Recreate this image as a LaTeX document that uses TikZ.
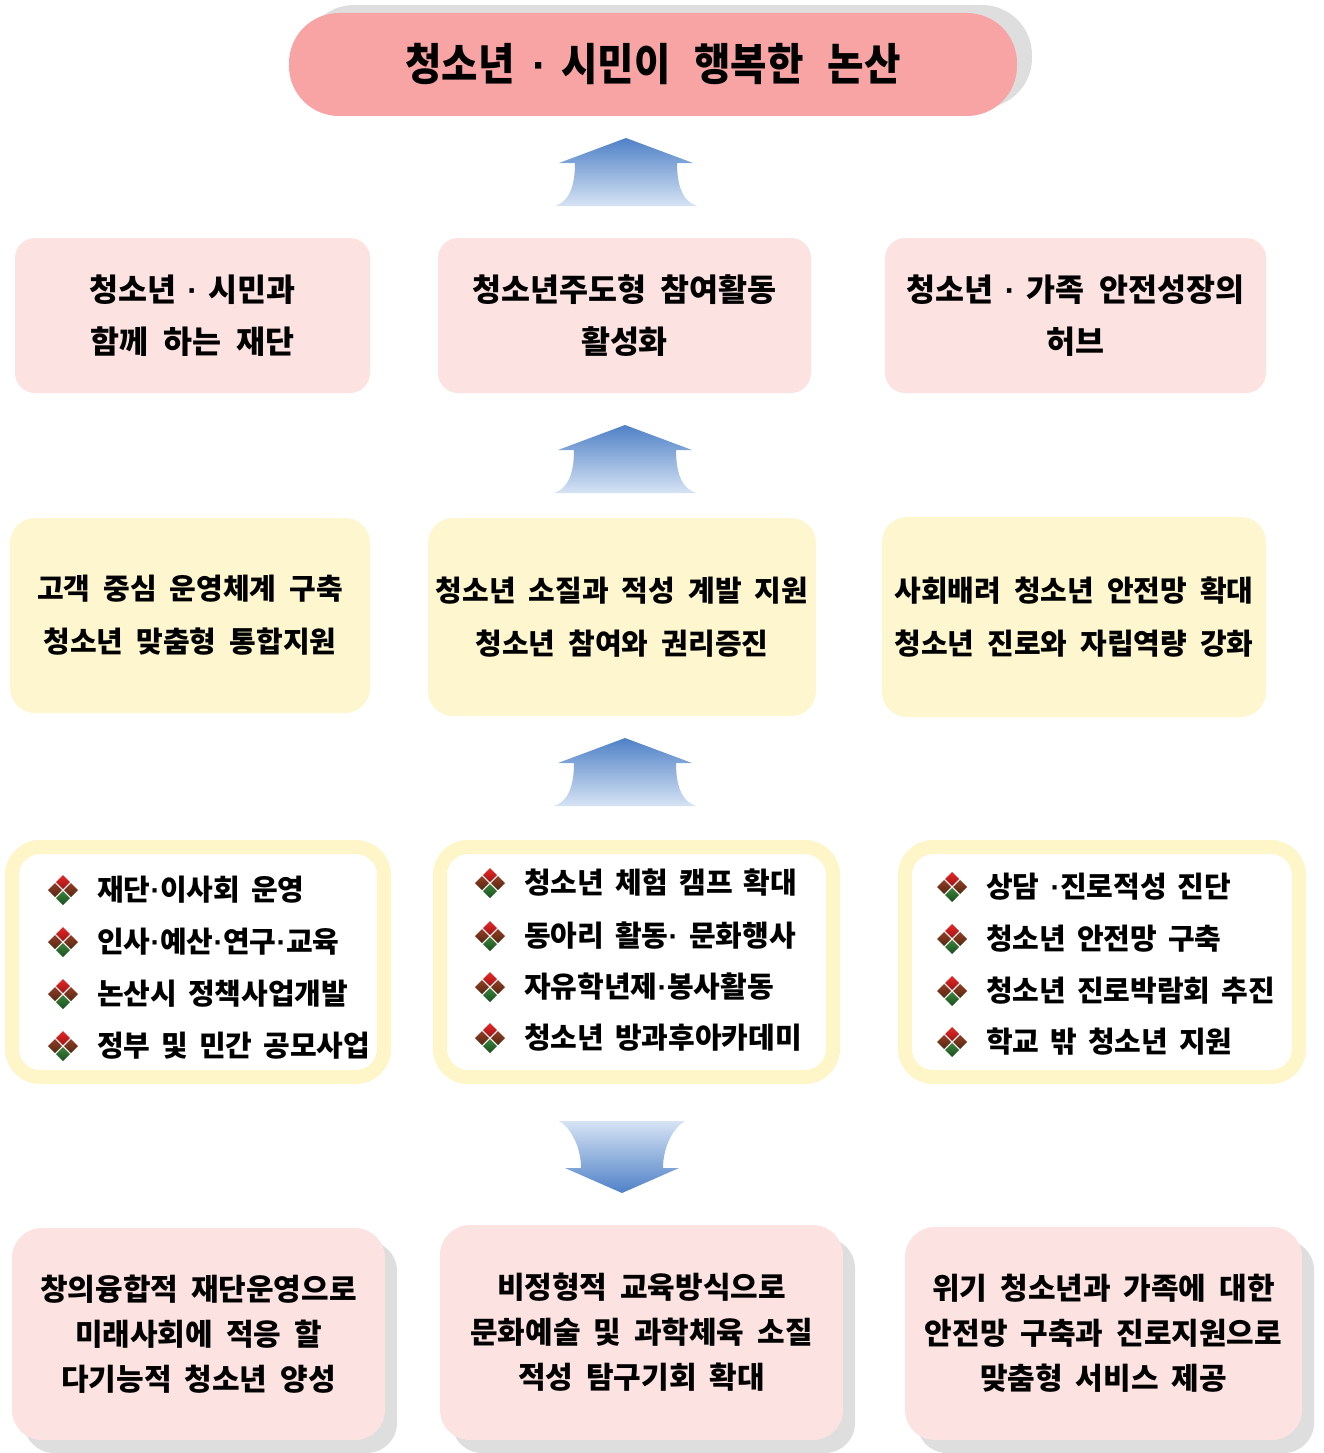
\documentclass[tikz,border=0pt]{standalone}
\usepackage{fontspec}
\newfontfamily\kr{Noto Sans CJK KR}
\newfontfamily\krt{Noto Sans CJK KR}[FakeStretch=0.9]
\newfontfamily\lib{Liberation Sans}
\newcommand\md{{\lib\bfseries ·}}
\usetikzlibrary{shadows}
\definecolor{titlepink}{RGB}{249,164,164}
\definecolor{lightpink}{RGB}{253,226,226}
\definecolor{paleyellow}{RGB}{254,246,206}
\definecolor{rimyellow}{RGB}{254,245,200}
\definecolor{shadowgray}{RGB}{222,222,222}
\definecolor{arrdark}{RGB}{79,129,199}
\definecolor{arrlight}{RGB}{214,227,244}
\definecolor{bred}{RGB}{230,40,40}
\definecolor{bredd}{RGB}{160,20,20}
\definecolor{bbrown}{RGB}{150,60,35}
\definecolor{bbrownd}{RGB}{80,40,20}
\definecolor{bgreen}{RGB}{60,130,60}
\definecolor{bgreend}{RGB}{25,80,30}
\newcommand\fTitle{\krt\bfseries\fontsize{44}{48}\selectfont\spaceskip 24pt\relax}
\newcommand\fGoal{\kr\bfseries\fontsize{31.5}{52}\selectfont\spaceskip 15pt\relax}
\newcommand\fStrat{\kr\bfseries\fontsize{29}{53}\selectfont\spaceskip 13pt\relax}
\newcommand\fItem{\kr\bfseries\fontsize{29}{30}\selectfont\spaceskip 11pt\relax}
\newcommand\fResult{\kr\bfseries\fontsize{30}{45}\selectfont\spaceskip 13pt\relax}
\tikzset{
  titlebox/.style={fill=titlepink, rounded corners=50pt, minimum width=728pt, minimum height=103pt,
    inner sep=0pt, align=center, font=\fTitle,
    drop shadow={shadow xshift=15pt, shadow yshift=8pt, fill=shadowgray, opacity=1}},
  goalbox/.style={fill=lightpink, rounded corners=20pt, minimum height=155pt, inner sep=0pt, align=center,
    font=\fGoal},
  stratbox/.style={fill=paleyellow, rounded corners=25pt, inner sep=0pt, align=center,
    font=\fStrat},
  taskbox/.style={draw=rimyellow, line width=14pt, fill=white, rounded corners=28pt, minimum height=230pt, inner sep=0pt},
  itemtext/.style={anchor=west, inner sep=0pt, font=\fItem},
  resultbox/.style={fill=lightpink, rounded corners=30pt, inner sep=0pt, align=center,
    font=\fResult,
    drop shadow={shadow xshift=12pt, shadow yshift=-13pt, fill=shadowgray, opacity=1}},
  dbullet/.pic={
    \shade[top color=bred, bottom color=bredd] (0,-15) -- (7,-8) -- (0,-1) -- (-7,-8) -- cycle;
    \shade[top color=bbrown, bottom color=bbrownd] (-8,-7) -- (-1,0) -- (-8,7) -- (-15,0) -- cycle;
    \shade[top color=bbrown, bottom color=bbrownd] (8,-7) -- (15,0) -- (8,7) -- (1,0) -- cycle;
    \shade[top color=bgreen, bottom color=bgreend] (0,1) -- (7,8) -- (0,15) -- (-7,8) -- cycle;
  },
  uparr/.pic={
    \shade[top color=arrdark, bottom color=arrlight]
      (0,0) -- (67,25) -- (51,25) .. controls (51,50) and (58,64) .. (71,68)
      -- (-71,68) .. controls (-58,64) and (-51,50) .. (-51,25) -- (-67,25) -- cycle;
  },
  downarr/.pic={
    \shade[top color=arrlight, bottom color=arrdark]
      (-63,0) -- (63,0) .. controls (52,6) and (41,25) .. (41,47) -- (57,47) -- (0,72) -- (-57,47) -- (-41,47)
      .. controls (-41,25) and (-52,6) .. (-63,0) -- cycle;
  }
}
\begin{document}
\begin{tikzpicture}[x=1pt,y=-1pt]
\useasboundingbox (0,0) rectangle (1324,1453);
% title
\node[titlebox] (title) at (653,64.5) {청소년\hspace{18pt}\md\hspace{14pt}시민이 행복한 논산};
% arrows
\pic at (626,138) {uparr};
\pic at (625,425) {uparr};
\pic at (625,738) {uparr};
\pic at (622,1121) {downarr};
% goals
\node[goalbox, minimum width=355pt] (g1) at (192.5,315.5) {청소년\hspace{11pt}\md\hspace{11pt}시민과\\함께 하는 재단};
\node[goalbox, minimum width=373pt] (g2) at (624.5,315.5) {청소년주도형 참여활동\\활성화};
\node[goalbox, minimum width=381pt] (g3) at (1075.5,315.5) {청소년\hspace{11pt}\md\hspace{11pt}가족 안전성장의\\허브};
% strategies
\node[stratbox, minimum width=360pt, minimum height=195pt] (s1) at (190,615.5) {고객 중심 운영체계 구축\\청소년 맞춤형 통합지원};
\node[stratbox, minimum width=388pt, minimum height=198pt] (s2) at (622,617) {청소년 소질과 적성 계발 지원\\청소년 참여와 권리증진};
\node[stratbox, minimum width=384pt, minimum height=200pt] (s3) at (1074,617) {사회배려 청소년 안전망 확대\\청소년 진로와 자립역량 강화};
% tasks
\node[taskbox, minimum width=372pt] (t1) at (198,962) {};
\node[taskbox, minimum width=393pt] (t2) at (636.5,962) {};
\node[taskbox, minimum width=394pt] (t3) at (1102,962) {};
\foreach \yy/\txt [count=\i] in {890/재단\md{}이사회 운영, 942/인사\md{}예산\md{}연구\md{}교육, 994/논산시 정책사업개발, 1046/정부 및 민간 공모사업}{
  \pic at (63,\yy) {dbullet};
  \node[itemtext] (ta\i) at (97,\yy) {\txt};
}
\foreach \yy/\txt [count=\i] in {883/청소년 체험 캠프 확대, 936/동아리 활동\md{} 문화행사, 987/자유학년제\md{}봉사활동, 1038/청소년 방과후아카데미}{
  \pic at (490,\yy) {dbullet};
  \node[itemtext] (tb\i) at (524,\yy) {\txt};
}
\foreach \yy/\txt [count=\i] in {887/상담 \md{}진로적성 진단, 939/청소년 안전망 구축, 991/청소년 진로박람회 추진, 1042/학교 밖 청소년 지원}{
  \pic at (952,\yy) {dbullet};
  \node[itemtext] (tc\i) at (986,\yy) {\txt};
}
% results
\node[resultbox, minimum width=373pt, minimum height=212pt] (r1) at (198.5,1334) {창의융합적 재단운영으로\\미래사회에 적응 할\\다기능적 청소년 양성};
\node[resultbox, minimum width=403pt, minimum height=215pt] (r2) at (641.5,1332.5) {비정형적 교육방식으로\\문화예술 및 과학체육 소질\\적성 탐구기회 확대};
\node[resultbox, minimum width=397pt, minimum height=213pt] (r3) at (1103.5,1333.5) {위기 청소년과 가족에 대한\\안전망 구축과 진로지원으로\\맞춤형 서비스 제공};
\end{tikzpicture}
\end{document}
